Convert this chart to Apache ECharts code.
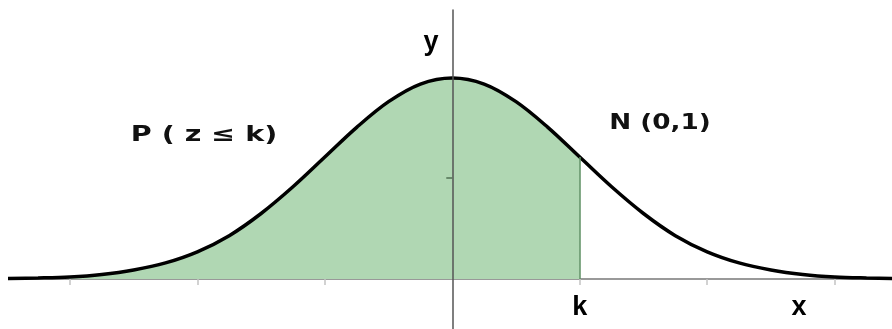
<!DOCTYPE html>
<html>
<head>
<meta charset="utf-8">
<script src="https://cdn.jsdelivr.net/npm/echarts@6/dist/echarts.min.js"></script>
<style>
  html, body { margin: 0; padding: 0; background: #fff; }
  #chart { width: 892px; height: 329px; }
</style>
</head>
<body>
<div id="chart"></div>
<script>
// curve (z, height of the curve)
const zValues = [-3.5, -3.25, -3, -2.75, -2.5, -2.25, -2, -1.75, -1.5, -1.25, -1, -0.75, -0.5, -0.25,
  0, 0.25, 0.5, 0.75, 1, 1.25, 1.5, 1.75, 2, 2.25, 2.5, 2.75, 3, 3.25, 3.5];
const density = [0.001, 0.002, 0.004, 0.009, 0.018, 0.032, 0.054, 0.086, 0.130, 0.183, 0.242, 0.301, 0.352, 0.387,
  0.399, 0.387, 0.352, 0.301, 0.242, 0.183, 0.130, 0.086, 0.054, 0.032, 0.018, 0.009, 0.004, 0.002, 0.001];
const kValue = 1;
const xTicks = [-3, -2, -1, 1, 2, 3];
const yTicks = [0.2];
const axisMarks = [[kValue, 0, 'k'], [2.72, 0, 'x']];

const curve = zValues.map((z, i) => [z, density[i]]);
const shaded = curve.filter(p => p[0] <= kValue);
const kHeight = density[zValues.indexOf(kValue)];

const labelFont = 'bold 27px "Liberation Sans", Arial, sans-serif';

const myChart = echarts.init(document.getElementById('chart'));

const option = {
  animation: false,
  grid: { left: 10, right: 0, top: 10, bottom: 0, outerBoundsMode: 'none', containLabel: false },
  xAxis: {
    type: 'value',
    min: -3.47,
    max: 3.45,
    splitLine: { show: false },
    axisLine: { onZero: true, lineStyle: { color: '#999', width: 2 } },
    axisTick: { customValues: xTicks, length: 6, lineStyle: { color: '#c4c4c4', width: 1.5 } },
    axisLabel: { show: false }
  },
  yAxis: {
    type: 'value',
    min: -0.0993,
    max: 0.534,
    z: 5,
    splitLine: { show: false },
    axisLine: { onZero: true, lineStyle: { color: '#555', width: 1.5 } },
    axisTick: { customValues: yTicks, length: 6, lineStyle: { color: '#4f6f52', width: 1.5 } },
    axisLabel: { show: false }
  },
  series: [
    {
      type: 'line',
      data: shaded,
      smooth: 0.35,
      showSymbol: false,
      lineStyle: { width: 0 },
      areaStyle: { color: '#b0d7b3', opacity: 1 },
      z: 2,
      markLine: {
        silent: true,
        symbol: 'none',
        label: { show: false },
        lineStyle: { color: '#5d8f62', width: 1.5, type: 'solid' },
        data: [[{ coord: [kValue, 0] }, { coord: [kValue, kHeight] }]]
      }
    },
    {
      type: 'line',
      data: curve,
      smooth: 0.35,
      showSymbol: false,
      lineStyle: { color: '#000', width: 3.5 },
      z: 3
    },
    {
      type: 'scatter',
      data: axisMarks,
      symbolSize: 0,
      silent: true,
      itemStyle: { opacity: 1 },
      label: {
        show: true,
        position: 'bottom',
        distance: 15,
        formatter: p => p.value[2],
        color: '#000',
        fontSize: 27,
        fontWeight: 'bold',
        fontFamily: '"Liberation Sans", Arial, sans-serif'
      }
    }
  ],
  graphic: [
    {
      type: 'text', x: 431, y: 43, z: 10,
      style: { text: 'y', font: labelFont, fill: '#000', align: 'center', verticalAlign: 'middle' }
    },
    {
      type: 'text', x: 660, y: 124, z: 10, scaleX: 1.25,
      style: { text: 'N (0,1)', font: 'bold 21px "DejaVu Sans", sans-serif', fill: '#111', align: 'center', verticalAlign: 'middle' }
    },
    {
      type: 'text', x: 204, y: 136, z: 10, scaleX: 1.36,
      style: { text: 'P ( z ≤ k)', font: 'bold 21px "DejaVu Sans", sans-serif', fill: '#111', align: 'center', verticalAlign: 'middle' }
    }
  ]
};

myChart.setOption(option);
</script>
</body>
</html>
